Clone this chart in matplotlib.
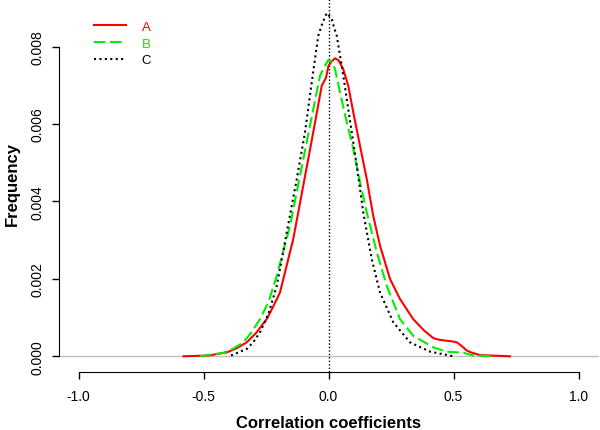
import matplotlib
matplotlib.use("Agg")
import matplotlib.pyplot as plt

plt.rcParams['font.family'] = ['Liberation Sans', 'DejaVu Sans']

# density curves
a_x = [-0.58, -0.48, -0.407, -0.37, -0.327, -0.29, -0.247, -0.22, -0.194, -0.141, -0.101, -0.061,
       -0.027, -0.01, 0.0, 0.01, 0.026, 0.04, 0.059, 0.079, 0.099, 0.126, 0.153, 0.179, 0.206,
       0.246, 0.286, 0.339, 0.38, 0.419, 0.44, 0.473, 0.49, 0.513, 0.53, 0.553, 0.57, 0.606, 0.726]
a_y = [0.0, 0.00002, 0.0001, 0.0002, 0.00036, 0.0006, 0.00096, 0.0013, 0.00165, 0.00303, 0.00441,
       0.00579, 0.00699, 0.0072, 0.00751, 0.0076, 0.0077, 0.00765, 0.00742, 0.00699, 0.00631,
       0.00544, 0.00458, 0.00363, 0.00286, 0.0020, 0.00148, 0.00096, 0.00068, 0.00047, 0.00043,
       0.0004, 0.00039, 0.00036, 0.00028, 0.00015, 0.0001, 0.00003, 0.0]

b_x = [-0.514, -0.421, -0.38, -0.341, -0.31, -0.274, -0.24, -0.207, -0.154, -0.114, -0.074,
       -0.034, -0.015, 0.0, 0.013, 0.026, 0.046, 0.073, 0.099, 0.126, 0.153, 0.193, 0.233, 0.286,
       0.339, 0.419, 0.473, 0.54, 0.58, 0.66]
b_y = [0.0, 0.00009, 0.0002, 0.00036, 0.0006, 0.00096, 0.0014, 0.00208, 0.00337, 0.00467,
       0.00596, 0.00725, 0.0075, 0.00766, 0.0076, 0.00742, 0.00682, 0.00605, 0.00536, 0.0045,
       0.00372, 0.00269, 0.00182, 0.00096, 0.00053, 0.00023, 0.00012, 0.00009, 0.00002, 0.0]

c_x = [-0.39, -0.327, -0.30, -0.274, -0.24, -0.207, -0.187, -0.167, -0.127, -0.094, -0.067,
       -0.041, -0.025, -0.007, 0.013, 0.022, 0.033, 0.053, 0.073, 0.093, 0.113, 0.139, 0.173,
       0.206, 0.259, 0.326, 0.406, 0.5]
c_y = [0.00002, 0.00019, 0.00037, 0.00062, 0.0011, 0.00182, 0.0025, 0.0032, 0.00458, 0.00579,
       0.00708, 0.00828, 0.0086, 0.00887, 0.00872, 0.0085, 0.00828, 0.00751, 0.00665, 0.00579,
       0.00493, 0.00372, 0.00251, 0.00165, 0.00088, 0.00036, 0.00012, 0.0]

x_ticks = [-1.0, -0.5, 0.0, 0.5, 1.0]
y_ticks = [0.000, 0.002, 0.004, 0.006, 0.008]
y_labels = ["0.000", "0.002", "0.004", "0.006", "0.008"]

fig = plt.figure(figsize=(6, 4.31), dpi=100)
ax = fig.add_axes([0.0975, 0.1346, 0.9, 0.877])

ax.axhline(0, color='#bebebe', lw=1, zorder=1)
ax.axvline(0, color='black', lw=1, ls=(0, (1, 1.5)), zorder=1)

la, = ax.plot(a_x, a_y, color='red', lw=1.5, label='A', zorder=3)
lb, = ax.plot(b_x, b_y, color='#00ee00', lw=1.5, dashes=(5.5, 2.2), label='B', zorder=3)
lc, = ax.plot(c_x, c_y, color='black', lw=1.5, dashes=(1, 1.6), label='C', zorder=3)

ax.set_xlim(-1.08, 1.08)
ax.set_ylim(-0.000406, 0.009362)

for s in ['top', 'right']:
    ax.spines[s].set_visible(False)
ax.spines['left'].set_bounds(0, 0.008)
ax.spines['bottom'].set_bounds(-1, 1)

ax.set_xticks(x_ticks)
ax.set_xticklabels(["-1.0", "-0.5", "0.0", "0.5", "1.0"], fontsize=10)
ax.set_yticks(y_ticks)
ax.set_yticklabels(y_labels, fontsize=10, rotation=90, va='center')
ax.tick_params(axis='both', direction='out', length=5, width=1)
ax.tick_params(axis='x', pad=7)
ax.tick_params(axis='y', pad=5)

ax.set_xlabel("Correlation coefficients", fontsize=12, fontweight='bold', labelpad=9)
ax.set_ylabel("Frequency", fontsize=12, fontweight='bold', labelpad=8)

leg = fig.legend(handles=[la, lb, lc], loc='upper left', bbox_to_anchor=(0.157, 0.950),
                 frameon=False, fontsize=9.5, handlelength=2.4, handletextpad=1.2,
                 labelspacing=0.35, borderpad=0, borderaxespad=0,
                 labelcolor=['red', '#00ee00', 'black'])

fig.savefig("out.png", dpi=100)
